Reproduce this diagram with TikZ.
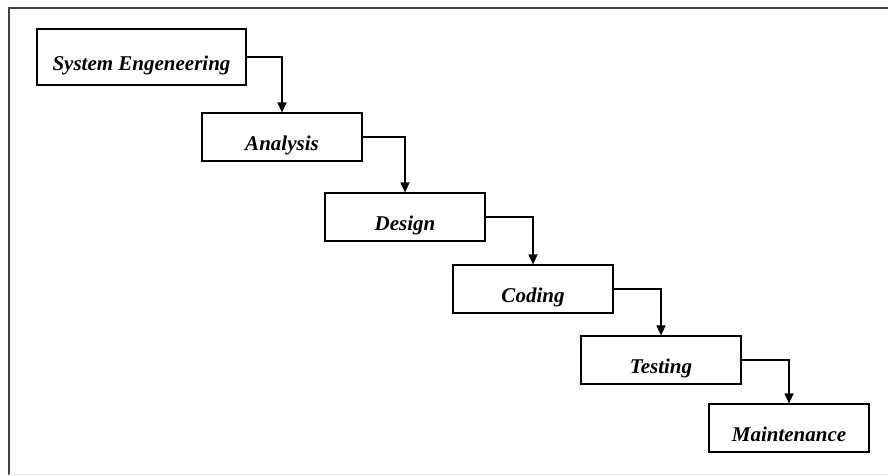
\documentclass[tikz,border=0pt]{standalone}
\usepackage{fontspec}
\setmainfont{Liberation Serif}
\usetikzlibrary{arrows.meta}

\def\w{160}
\def\h{48}

\begin{document}
\begin{tikzpicture}[x=1pt, y=-1pt]
			\tikzset{phase/.style={draw, line width=1.2pt, inner sep=0pt, text height=26pt, text depth=0pt, minimum width=\w pt, minimum height=\h pt, font=\fontsize{21}{24}\selectfont\bfseries\itshape}}
			\tikzset{edge/.style={->, line width=1.2pt, > = {Triangle[length=10pt, width=9pt]}}}
			\useasboundingbox (0,0) rectangle (888,475);
			\draw[line width=2pt, black!75] (9,475) -- (9,8) -- (888,8);
			\draw[line width=1pt, black!8] (9,474) -- (888,474);
			\node[phase, minimum width=209pt, minimum height=56pt](0) at (141.5,57){System Engeneering};
			\node[phase](1) at (282,137){Analysis};
			\node[phase](2) at (405,217){Design};
			\node[phase](3) at (533,289){Coding};
			\node[phase](4) at (661,360){Testing};
			\node[phase](5) at (789,428){Maintenance};
			\draw[edge] (0) -| (1);
			\draw[edge] (1) -| (2);
			\draw[edge] (2) -| (3);
			\draw[edge] (3) -| (4);
			\draw[edge] (4) -| (5);
		\end{tikzpicture}
\end{document}
